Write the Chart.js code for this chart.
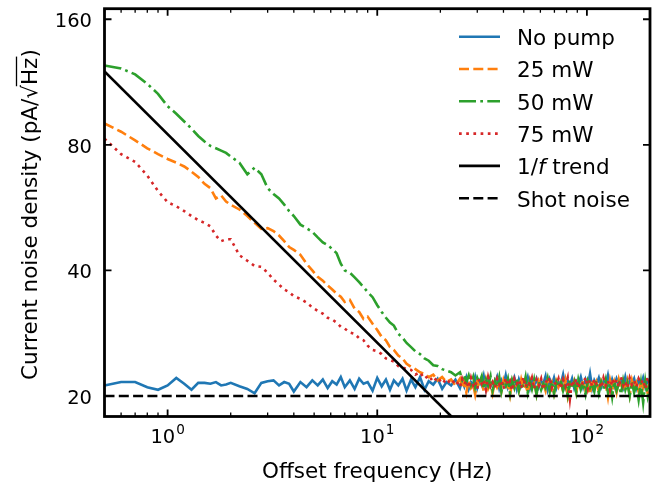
<!DOCTYPE html>
<html>
<head>
<meta charset="utf-8">
<script src="https://cdn.jsdelivr.net/npm/chart.js@4/dist/chart.umd.min.js"></script>
<style>
  body { margin: 0; background: #fff; }
  canvas { display: block; }
</style>
</head>
<body>
<canvas id="noise-chart" width="655" height="484"></canvas>
<script>
// offset frequency (Hz), shared by the measured traces
var freq = [
  0.5, 0.6, 0.7, 0.8, 0.9, 1.0, 1.1, 1.2, 1.3, 1.4,
  1.5, 1.6, 1.7, 1.8, 1.9, 2.0, 2.2, 2.4, 2.6, 2.8,
  3.0, 3.2, 3.4, 3.6, 3.8, 4.0, 4.3, 4.6, 4.9, 5.2,
  5.5, 5.8, 6.1, 6.4, 6.7, 7.0, 7.4, 7.8, 8.2, 8.6,
  9.0, 9.5, 10, 10.5, 11, 11.5, 12, 12.6, 13.2, 13.8,
  14.5, 15.2, 16, 16.8, 17.6, 18.5, 19.4, 20.4, 21.4, 22.5,
  23.6, 24.8,
  25.4, 26, 26.6, 27.3, 28, 28.7, 29.3, 30, 30.7, 31.5,
  32.2, 33, 33.8, 34.7, 35.5, 36.4, 37.3, 38.2, 39.1, 40,
  41, 42, 43, 44, 45.1, 46.3, 47.4, 48.6, 49.8, 51,
  52.2, 53.5, 54.7, 56, 57.5, 59, 60.5, 62, 63.5, 65,
  66.5, 68, 69.7, 71.5, 73.2, 75, 77, 79, 81, 83,
  85, 87, 89, 91, 93.5, 96, 98.5, 101, 103.5, 106,
  108.5, 111, 114, 117, 120, 123, 126, 129, 132, 135,
  138.5, 142, 145.5, 149, 152.5, 156, 160, 164, 168, 172,
  176.5, 181, 185.5, 190, 195, 200
];

// current noise density (pA/sqrt(Hz))
var noPump = [
  21.2, 21.6, 21.6, 21.0, 20.7, 21.2, 22.1, 21.4, 20.7, 21.5,
  21.5, 21.4, 21.6, 21.2, 21.3, 21.5, 21.1, 20.8, 20.3, 21.5,
  21.7, 21.8, 21.2, 21.6, 21.4, 20.5, 21.6, 21.0, 21.8, 21.2,
  21.9, 20.9, 21.7, 21.3, 22.2, 21.0, 21.8, 20.8, 22.0, 21.4,
  21.6, 20.6, 22.1, 21.1, 21.9, 20.7, 21.8, 21.2, 22.0, 20.6,
  21.9, 21.0, 22.2, 20.7, 21.7, 21.3, 22.0, 20.8, 21.6, 21.2,
  21.9, 20.9,
  21.8, 21.1, 22.1, 20.8, 21.6, 21.3, 22.2, 20.9, 21.7, 21.2,
  22.3, 20.8, 21.9, 21.1, 21.6, 21.4, 22.2, 20.9, 21.8, 21.2,
  22.4, 21.0, 21.7, 21.3, 22.1, 20.8, 21.9, 21.1, 21.6, 21.4,
  22.2, 20.9, 21.8, 21.2, 22.0, 21.0, 21.7, 21.4, 22.3, 20.8,
  21.9, 21.2, 22.1, 20.9, 21.6, 21.3, 22.5, 21.0, 21.8, 21.2,
  22.0, 20.9, 21.7, 21.3, 22.2, 21.0, 21.9, 21.1, 22.6, 20.9,
  21.8, 21.3, 22.1, 21.0, 21.7, 21.2, 22.4, 20.9, 21.9, 21.1,
  22.0, 21.3, 21.8, 21.0, 22.2, 21.1, 21.7, 21.4, 22.0, 20.9,
  21.9, 21.2, 22.1, 21.0, 21.8, 21.3
];
var pump25 = [
  90, 86, 82, 78.5, 76, 74, 72.5, 71, 69, 67,
  64.5, 63, 59.5, 60.5, 58.5, 57.5, 56, 54, 52, 50.3,
  50.5, 49.7, 48.5, 47, 45.5, 44.8, 43.6, 41.5, 40, 38.6,
  37.8, 36.8, 36, 35.2, 34.6, 33.6, 34, 32.4, 31.8, 30.6,
  31, 29.8, 28.8, 27.7, 27.2, 26.2, 25.8, 25, 24.6, 23.9,
  23.5, 23.2, 22.8, 22.6, 22.2, 22.5, 21.8, 22.2, 21.6, 21.9,
  21.2, 22.0,
  21.0, 21.6, 20.4, 21.8, 20.9, 21.3, 20.2, 21.7, 21.0, 21.5,
  20.6, 21.9, 20.8, 21.4, 20.3, 21.7, 21.0, 21.6, 20.5, 21.8,
  20.9, 21.4, 20.1, 21.7, 21.0, 21.5, 20.6, 21.9, 20.8, 21.3,
  20.4, 21.8, 20.9, 21.6, 20.2, 21.7, 21.0, 21.4, 20.6, 21.9,
  20.8, 21.5, 20.3, 21.7, 21.0, 21.6, 20.5, 21.8, 20.0, 21.4,
  20.9, 21.7, 20.4, 21.6, 21.0, 21.8, 20.6, 21.5, 20.2, 21.9,
  20.8, 21.6, 20.5, 21.7, 21.0, 21.4, 19.9, 21.8, 20.7, 21.6,
  20.4, 21.9, 20.9, 21.5, 20.6, 21.7, 20.1, 21.8, 20.8, 21.5,
  20.5, 21.7, 20.9, 21.6, 20.3, 21.8
];
var pump50 = [
  124, 122, 118, 112, 106, 99, 95, 91, 87.5, 84,
  81.5, 79.5, 78.5, 77.5, 76.5, 75, 72.5, 68, 70.5, 68,
  63, 61, 59.5, 57.5, 55.5, 54, 51.5, 50.5, 49.5, 48,
  46.7, 46, 45, 44, 41.5, 40, 39.5, 38.5, 37.5, 36.5,
  35.5, 34.5, 33, 31.8, 30.8, 30, 29.5, 28.2, 27.6, 26.8,
  26.2, 25.6, 25.2, 24.6, 24.3, 23.7, 23.6, 23.2, 23.0, 22.8,
  22.4, 22.8,
  21.9, 22.5, 21.6, 22.4, 21.3, 22.2, 21.0, 22.1, 21.5, 22.3,
  20.8, 21.9, 21.2, 22.3, 20.6, 21.7, 21.0, 22.2, 20.5, 21.6,
  21.1, 22.0, 20.3, 21.8, 20.9, 22.1, 20.6, 21.5, 21.0, 22.2,
  20.4, 21.7, 20.8, 21.9, 20.2, 21.6, 20.7, 21.4, 20.9, 22.0,
  20.5, 21.8, 20.3, 21.6, 21.0, 21.9, 20.6, 21.5, 20.1, 21.8,
  20.8, 21.6, 20.4, 21.9, 20.7, 21.5, 20.2, 21.7, 20.9, 21.4,
  20.5, 21.8, 20.3, 21.6, 20.8, 21.9, 20.4, 21.5, 19.9, 21.7,
  20.6, 21.4, 20.2, 21.8, 20.7, 21.5, 20.0, 21.6, 20.4, 21.3,
  19.6, 21.5, 19.3, 21.7, 20.0, 21.4
];
var pump75 = [
  82.8, 76, 72.8, 67.5, 62, 58.3, 57, 55.5, 54, 52.8,
  52, 51, 48.5, 47, 47.5, 47.5, 43.5, 42.2, 41, 40.8,
  39.5, 38, 37, 36, 35.5, 34.7, 34.2, 33.5, 32.6, 32,
  31.5, 30.8, 30.5, 30, 29.3, 29, 28.4, 28.2, 27.5, 27.2,
  26.4, 25.8, 25.6, 25.2, 24.6, 24.4, 24.2, 23.6, 23.4, 23.2,
  23.1, 22.5, 22.8, 22.0, 22.4, 21.6, 22.2, 21.4, 22.0, 21.3,
  21.9, 21.0,
  22.0, 21.3, 21.8, 20.9, 22.1, 21.2, 21.7, 20.8, 22.0, 21.4,
  21.9, 20.7, 22.2, 21.1, 21.6, 20.9, 22.0, 21.3, 21.8, 20.8,
  22.1, 21.2, 21.7, 20.6, 22.0, 21.4, 21.9, 20.9, 22.2, 21.0,
  21.7, 21.3, 22.1, 20.8, 21.9, 21.2, 22.0, 20.7, 21.8, 21.4,
  22.2, 20.9, 21.6, 21.3, 22.0, 20.8, 21.9, 21.1, 22.1, 19.7,
  21.8, 21.2, 22.0, 20.9, 21.7, 21.3, 22.2, 20.8, 21.9, 21.1,
  22.0, 21.4, 21.6, 20.9, 22.1, 21.2, 21.8, 20.7, 22.0, 21.3,
  21.9, 21.0, 22.2, 21.2, 21.7, 20.9, 22.1, 21.3, 21.8, 21.0,
  22.0, 21.4, 21.9, 20.8, 22.2, 21.3
];

// 1/f trend (end points) and shot noise level
var trendFreq = [0.5, 30];
var trendVal = [120, 15.5];
var shotFreq = [0.5, 200];
var shotVal = [20, 20];

// tick labels: x as 10^exp, y plain
var xTicks = [1, 10, 100];
var xTickExp = ['0', '1', '2'];
var xMinor = [0.5, 0.6, 0.7, 0.8, 0.9, 2, 3, 4, 5, 6, 7, 8, 9, 20, 30, 40, 50, 60, 70, 80, 90, 200];
var yTicks = [20, 40, 80, 160];

function pts(xs, ys) {
  return xs.map(function(x, i) { return {x: x, y: ys[i]}; });
}

var FONT = "'DejaVu Sans', 'Liberation Sans', sans-serif";

var framePlugin = {
  id: 'frame',
  afterDraw: function(chart) {
    var ctx = chart.ctx, a = chart.chartArea;
    var xs = chart.scales.x, ys = chart.scales.y;
    ctx.save();
    ctx.strokeStyle = '#000';
    // inward ticks on all four sides
    ctx.lineWidth = 1.8;
    ctx.beginPath();
    xTicks.forEach(function(v) {
      var px = xs.getPixelForValue(v);
      ctx.moveTo(px, a.bottom); ctx.lineTo(px, a.bottom - 7);
      ctx.moveTo(px, a.top); ctx.lineTo(px, a.top + 7);
    });
    yTicks.forEach(function(v) {
      var py = ys.getPixelForValue(v);
      ctx.moveTo(a.left, py); ctx.lineTo(a.left + 7, py);
      ctx.moveTo(a.right, py); ctx.lineTo(a.right - 7, py);
    });
    ctx.stroke();
    ctx.lineWidth = 1.3;
    ctx.beginPath();
    xMinor.forEach(function(v) {
      var px = xs.getPixelForValue(v);
      ctx.moveTo(px, a.bottom); ctx.lineTo(px, a.bottom - 4);
      ctx.moveTo(px, a.top); ctx.lineTo(px, a.top + 4);
    });
    ctx.stroke();
    ctx.lineWidth = 2.8;
    ctx.strokeRect(a.left, a.top, a.right - a.left, a.bottom - a.top);

    // tick labels
    ctx.fillStyle = '#000';
    ctx.textBaseline = 'alphabetic';
    ctx.font = '19.5px ' + FONT;
    ctx.textAlign = 'right';
    yTicks.forEach(function(v) {
      ctx.fillText(String(v), a.left - 12.5, ys.getPixelForValue(v) + 7.8);
    });
    ctx.textAlign = 'left';
    xTicks.forEach(function(v, i) {
      ctx.font = '19.5px ' + FONT;
      var wb = ctx.measureText('10').width;
      ctx.font = '13.6px ' + FONT;
      var we = ctx.measureText(xTickExp[i]).width;
      var x0 = xs.getPixelForValue(v) - (wb + we + 1) / 2;
      ctx.font = '19.5px ' + FONT;
      ctx.fillText('10', x0, a.bottom + 26.5);
      ctx.font = '13.6px ' + FONT;
      ctx.fillText(xTickExp[i], x0 + wb + 1, a.bottom + 17.5);
    });

    // axis titles
    ctx.font = '21.5px ' + FONT;
    ctx.textAlign = 'center';
    ctx.fillText('Offset frequency (Hz)', (a.left + a.right) / 2, 478);

    ctx.translate(37, (a.top + a.bottom) / 2 + 2);
    ctx.rotate(-Math.PI / 2);
    ctx.textAlign = 'left';
    var p1 = 'Current noise density (pA/', p2 = '\u221a', p3 = 'Hz', p4 = ')';
    var w1 = ctx.measureText(p1).width, w2 = ctx.measureText(p2).width;
    var w3 = ctx.measureText(p3).width, w4 = ctx.measureText(p4).width;
    var x0 = -(w1 + w2 + w3 + w4) / 2;
    ctx.fillText(p1, x0, 0);
    ctx.fillText(p2, x0 + w1, 0);
    ctx.fillText(p3, x0 + w1 + w2, 0);
    ctx.fillText(p4, x0 + w1 + w2 + w3, 0);
    ctx.lineWidth = 1.3;
    ctx.beginPath();
    ctx.moveTo(x0 + w1 + w2 - 1.2, -20.5);
    ctx.lineTo(x0 + w1 + w2 + w3 + 1, -20.5);
    ctx.stroke();
    ctx.restore();
  }
};

var legendPlugin = {
  id: 'innerLegend',
  afterDraw: function(chart) {
    var ctx = chart.ctx;
    ctx.save();
    ctx.font = '21.5px ' + FONT;
    ctx.textBaseline = 'alphabetic';
    ctx.textAlign = 'left';
    chart.data.datasets.forEach(function(ds, i) {
      var y = 36.7 + i * 32.3;
      ctx.strokeStyle = ds.borderColor;
      ctx.lineWidth = ds.borderWidth;
      ctx.setLineDash(ds.borderDash || []);
      ctx.beginPath();
      ctx.moveTo(459, y);
      ctx.lineTo(500, y);
      ctx.stroke();
      ctx.setLineDash([]);
      ctx.fillStyle = '#000';
      if (ds.label === '1/f trend') {
        var x = 517;
        ctx.fillText('1/', x, y + 8.3);
        x += ctx.measureText('1/').width;
        ctx.font = 'italic 21.5px ' + FONT;
        ctx.fillText('f', x, y + 8.3);
        x += ctx.measureText('f').width;
        ctx.font = '21.5px ' + FONT;
        ctx.fillText(' trend', x, y + 8.3);
      } else {
        ctx.fillText(ds.label, 517, y + 8.3);
      }
    });
    ctx.restore();
  }
};

var LW = 2.6;
var ctx = document.getElementById('noise-chart');
window.noiseChart = new Chart(ctx, {
  type: 'line',
  data: {
    datasets: [
      { label: 'No pump', data: pts(freq, noPump), borderColor: '#1f77b4', borderWidth: LW, order: 6 },
      { label: '25 mW', data: pts(freq, pump25), borderColor: '#ff7f0e', borderWidth: LW, borderDash: [10, 4.3], order: 5 },
      { label: '50 mW', data: pts(freq, pump50), borderColor: '#2ca02c', borderWidth: LW, borderDash: [17, 4.3, 2.7, 4.3], order: 4 },
      { label: '75 mW', data: pts(freq, pump75), borderColor: '#d62728', borderWidth: LW, borderDash: [2.7, 4.5], order: 3 },
      { label: '1/f trend', data: pts(trendFreq, trendVal), borderColor: '#000', borderWidth: LW, order: 2 },
      { label: 'Shot noise', data: pts(shotFreq, shotVal), borderColor: '#000', borderWidth: LW, borderDash: [10, 4.3], order: 1 }
    ]
  },
  options: {
    responsive: false,
    animation: false,
    parsing: false,
    layout: { padding: { top: 8.7, right: 5, left: 0, bottom: 0 } },
    elements: {
      point: { radius: 0 },
      line: { tension: 0, fill: false }
    },
    plugins: {
      legend: { display: false },
      tooltip: { enabled: false }
    },
    scales: {
      x: {
        type: 'logarithmic',
        min: 0.5,
        max: 200,
        grid: { display: false, drawTicks: false },
        border: { display: false },
        ticks: { display: false },
        afterFit: function(s) { s.height = 67.5; }
      },
      y: {
        type: 'logarithmic',
        min: 17.86,
        max: 169.6,
        grid: { display: false, drawTicks: false },
        border: { display: false },
        ticks: { display: false },
        afterFit: function(s) { s.width = 104.5; }
      }
    }
  },
  plugins: [framePlugin, legendPlugin]
});
</script>
</body>
</html>
